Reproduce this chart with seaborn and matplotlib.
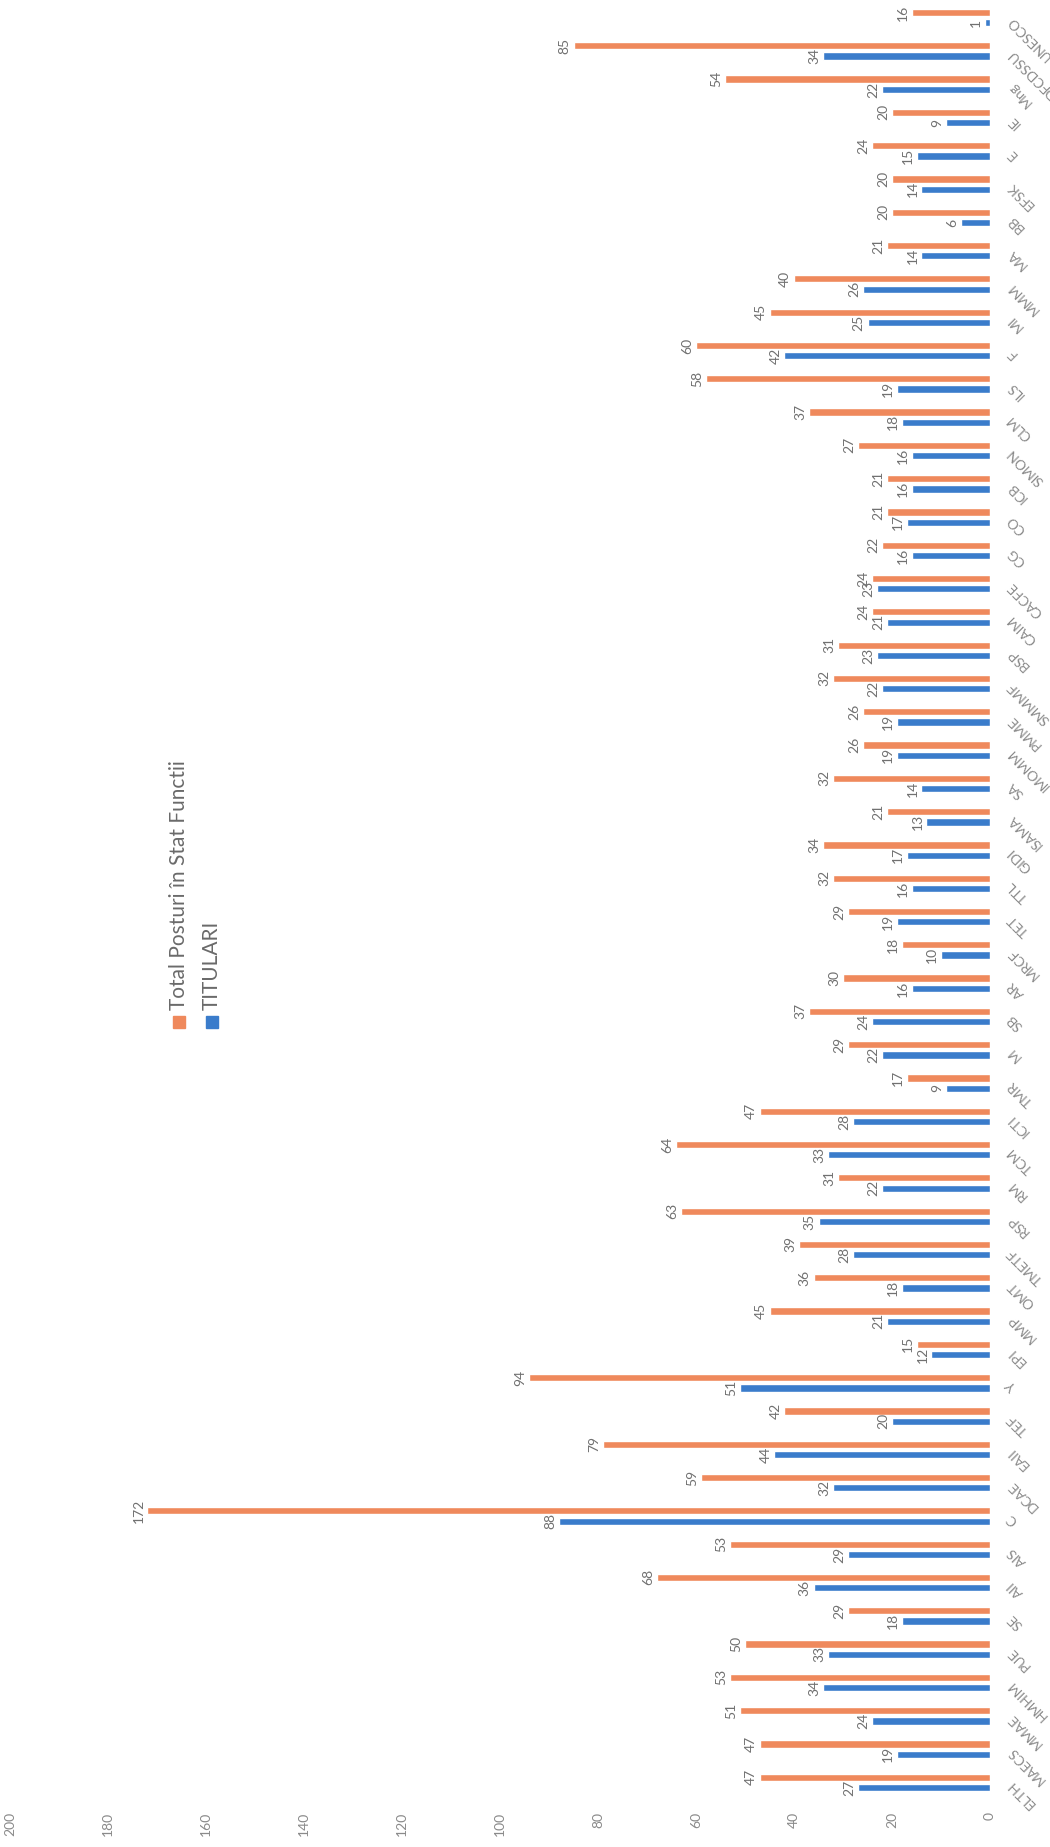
import pandas as pd
import matplotlib
matplotlib.use("Agg")
import matplotlib.pyplot as plt
import seaborn as sns
from matplotlib.patches import Rectangle

# categories, bottom to top in the picture
departamente = ["ELTH", "MAECS", "MMAE", "HMHIM", "PUE", "SE", "AII", "AIS", "C", "DCAE",
                "EAII", "TEF", "Y", "EPI", "MMP", "OMT", "TMETF", "RSP", "RM", "TCM",
                "ICTI", "TMR", "M", "SB", "AR", "MRCF", "TET", "TTL", "GIDI", "ISAMA",
                "SA", "IMOMM", "PMME", "SMMMF", "BSP", "CAIM", "CACFE", "CG", "CO", "ICB",
                "SIMON", "CLM", "ILS", "F", "MI", "MMM", "MA", "BB", "EFSK", "E",
                "IE", "Mng", "DFCDSSU", "UNESCO"]
titulari = [27, 19, 24, 34, 33, 18, 36, 29, 88, 32,
            44, 20, 51, 12, 21, 18, 28, 35, 22, 33,
            28, 9, 22, 24, 16, 10, 19, 16, 17, 13,
            14, 19, 19, 22, 23, 21, 23, 16, 17, 16,
            16, 18, 19, 42, 25, 26, 14, 6, 14, 15,
            9, 22, 34, 1]
total_posturi = [47, 47, 51, 53, 50, 29, 68, 53, 172, 59,
                 79, 42, 94, 15, 45, 36, 39, 63, 31, 64,
                 47, 17, 29, 37, 30, 18, 29, 32, 34, 21,
                 32, 26, 26, 32, 31, 24, 24, 22, 21, 21,
                 27, 37, 58, 60, 45, 40, 21, 20, 20, 24,
                 20, 54, 85, 16]
serii = ["TITULARI", "Total Posturi în Stat Functii"]
culori = {"TITULARI": "#3a7ccb", "Total Posturi în Stat Functii": "#ef895c"}
valori_ax = list(range(0, 201, 20))

df = pd.concat([
    pd.DataFrame({"dep": departamente, "val": titulari, "serie": serii[0]}),
    pd.DataFrame({"dep": departamente, "val": total_posturi, "serie": serii[1]}),
])

sns.set_style("white")
plt.rcParams["font.family"] = ["Lato", "DejaVu Sans"]

W, H = 1050, 1847
fig = plt.figure(figsize=(W / 100, H / 100), dpi=100)
ax = fig.add_axes([10 / W, 48 / H, 980 / W, 1798 / H])

sns.barplot(data=df, x="val", y="dep", hue="serie", order=departamente[::-1],
            hue_order=serii[::-1], palette=culori, orient="h", width=0.62, gap=0.3,
            saturation=1, errorbar=None, legend=False, ax=ax)

ax.set_xlim(200, 0)
ax.set_ylim(len(departamente) - 0.5, -0.5)
ax.set_xticks(valori_ax)
ax.set_xticklabels([str(v) for v in valori_ax], rotation=90, color="#8a8a8a", fontsize=10)
ax.set_xlabel("")
ax.set_ylabel("")
ax.yaxis.tick_right()
ax.tick_params(axis="x", length=0, pad=9)
ax.tick_params(axis="y", length=0, pad=14, labelsize=10, labelcolor="#8a8a8a")
for lab in ax.get_yticklabels():
    lab.set_rotation(135)
    lab.set_rotation_mode("anchor")
    lab.set_ha("right")
    lab.set_va("center")
for s in ax.spines.values():
    s.set_visible(False)

for cont in ax.containers:
    ax.bar_label(cont, rotation=90, padding=2, fontsize=10, color="#707070")

# legend, drawn rotated like the rest of the page
for xpx, nume in [(212, serii[0]), (179, serii[1])]:
    fig.patches.append(Rectangle(((xpx - 6) / W, (H - 1028) / H), 12 / W, 12 / H,
                                 transform=fig.transFigure, color=culori[nume]))
    fig.text(xpx / W, (H - 1010) / H, nume, rotation=90, ha="center", va="bottom",
             fontsize=15, color="#6a6a6a")

fig.savefig("out.png", dpi=100, facecolor="white")
